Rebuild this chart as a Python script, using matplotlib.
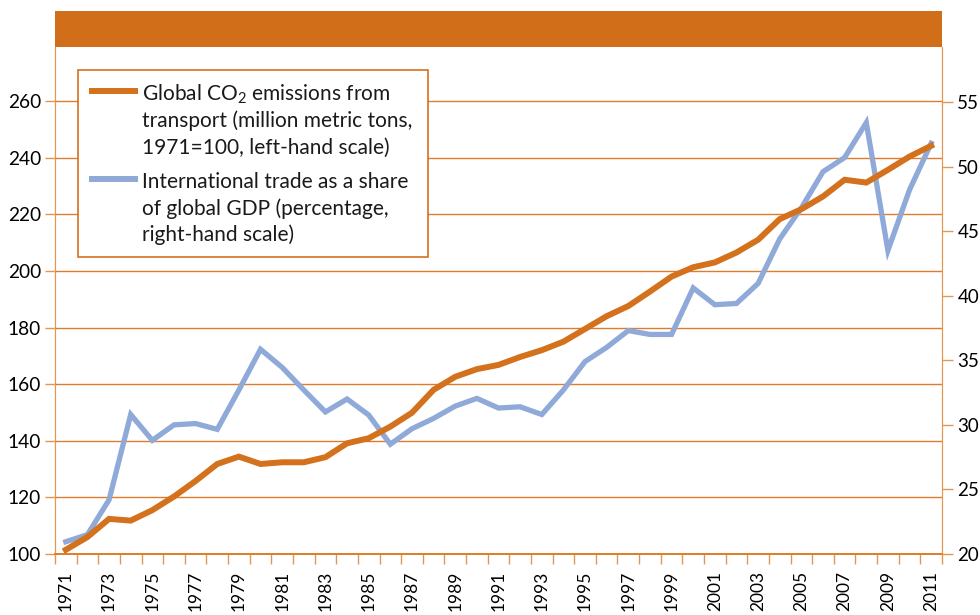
import numpy as np
import matplotlib
matplotlib.use('Agg')
import matplotlib.pyplot as plt
from matplotlib.patches import Rectangle
from matplotlib.lines import Line2D

FONT = 'Lato'
plt.rcParams['font.family'] = [FONT, 'DejaVu Sans']
plt.rcParams['mathtext.fontset'] = 'custom'
plt.rcParams['mathtext.rm'] = FONT

# data
years = list(range(1971, 2012))
co2_transport = [101.5, 106.0, 112.4, 111.8, 115.5, 120.3, 125.8, 131.8, 134.4, 131.8,
                 132.4, 132.4, 134.2, 139.1, 140.9, 145.0, 149.9, 158.0, 162.6, 165.3,
                 166.8, 169.6, 172.0, 175.0, 179.5, 184.0, 187.6, 192.7, 198.0, 201.3,
                 203.0, 206.5, 211.0, 218.3, 221.8, 226.3, 232.2, 231.2, 235.7, 240.4, 244.2]
trade_share = [20.95, 21.5, 24.2, 30.8, 28.8, 30.0, 30.1, 29.65, 32.7, 35.85,
               34.45, 32.7, 31.0, 32.0, 30.76, 28.5, 29.7, 30.5, 31.45, 32.05,
               31.3, 31.4, 30.8, 32.7, 34.9, 36.0, 37.3, 37.0, 37.0, 40.6,
               39.3, 39.4, 40.95, 44.4, 46.8, 49.6, 50.7, 53.4, 43.5, 48.2, 51.8]
left_ticks = [100, 120, 140, 160, 180, 200, 220, 240, 260]
right_ticks = [20, 25, 30, 35, 40, 45, 50, 55]
legend_co2 = ["Global CO$_2$ emissions from", "transport (million metric tons,",
              "1971=100, left-hand scale)"]
legend_trade = ["International trade as a share", "of global GDP (percentage,",
                "right-hand scale)"]

ORANGE = '#D4711C'
BAND = '#D16E19'
BLUE = '#8FA9D8'
GRID = '#DD7C2C'
SPINE = '#E39552'

W, H = 980, 615
fig = plt.figure(figsize=(W / 100, H / 100), dpi=100)

def fx(px):
    return px / W

def fy(py):
    return 1 - py / H

ax = fig.add_axes([fx(55), fy(554), fx(942) - fx(55), fy(46.7) - fy(554)])
ax2 = ax.twinx()

x = np.arange(len(years))

ax2.plot(x, trade_share, color=BLUE, lw=3.8, solid_joinstyle='miter', zorder=2)
# orange series lives on the left scale but is drawn above the blue one
ax2.plot(x, co2_transport, color=ORANGE, lw=4.3, solid_joinstyle='miter',
         transform=ax.transData, zorder=3)

ax.set_xlim(-0.5, len(years) - 0.5)
ax.set_ylim(100, 279.2)
ax2.set_ylim(20, 59.28)

ax.set_yticks(left_ticks)
ax2.set_yticks(right_ticks)
ax.yaxis.grid(True, color=GRID, lw=1)
ax.set_axisbelow(True)

# ticks between years, labels on every other year
ax.set_xticks(np.arange(-0.5, len(years), 1))
ax.set_xticks(x[::2], minor=True)
ax.set_xticklabels([str(y) for y in years[::2]], minor=True)
ax.tick_params(axis='x', which='major', length=7, width=1, color=SPINE, labelbottom=False)
ax.tick_params(axis='x', which='minor', length=0, pad=12, labelsize=12.5, rotation=90)
ax.tick_params(axis='y', length=7, width=1, color=SPINE, pad=3, labelsize=13.8)
ax2.tick_params(axis='y', length=8, width=1, color=SPINE, pad=3, labelsize=13.5)

for a in (ax, ax2):
    a.spines['top'].set_visible(False)
    a.spines['left'].set_color(SPINE)
    a.spines['right'].set_color(SPINE)
    a.spines['bottom'].set_color(GRID)
    a.spines['bottom'].set_linewidth(1.2)

# header band
fig.add_artist(Rectangle((fx(55), fy(46.7)), fx(942) - fx(55), fy(10.7) - fy(46.7),
                         transform=fig.transFigure, facecolor=BAND, edgecolor='none'))

# legend box drawn by hand so the keys sit on the first text line
fig.add_artist(Rectangle((fx(78), fy(257)), fx(428) - fx(78), fy(70) - fy(257),
                         transform=fig.transFigure, facecolor='white',
                         edgecolor=ORANGE, lw=1.2, zorder=5))
for lines, color, key_y, base_y in [(legend_co2, ORANGE, 91, 100),
                                    (legend_trade, BLUE, 179, 188)]:
    fig.add_artist(Line2D([fx(92), fx(135)], [fy(key_y), fy(key_y)],
                          transform=fig.transFigure, color=color, lw=4.3, zorder=6))
    for i, line in enumerate(lines):
        fig.text(fx(142), fy(base_y + i * 26.7), line, fontsize=15,
                 va='baseline', ha='left', color='#1a1a1a', zorder=6)

fig.savefig('out.png', dpi=100)
